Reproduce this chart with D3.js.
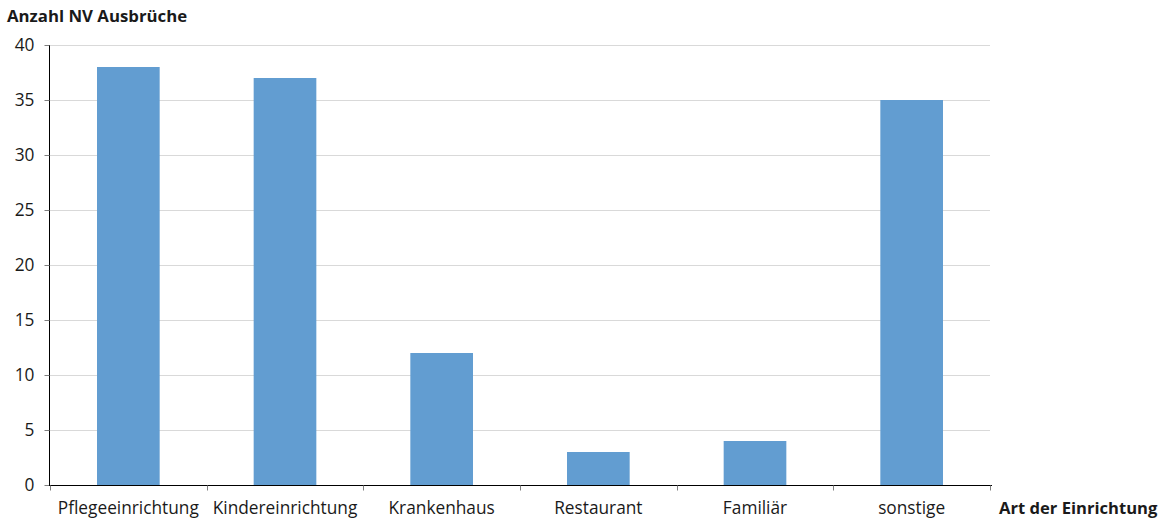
<!DOCTYPE html>
<html>
<head>
<meta charset="utf-8">
<script src="https://cdn.jsdelivr.net/npm/d3@7"></script>
<style>
  html, body { margin: 0; padding: 0; background: #fff; }
  svg { display: block; font-family: "Open Sans", "Noto Sans", sans-serif; }
</style>
</head>
<body>
<svg id="chart" width="1163" height="519"></svg>
<script>
// Norovirus outbreaks by type of facility
const categories = ["Pflegeeinrichtung", "Kindereinrichtung", "Krankenhaus", "Restaurant", "Familiär", "sonstige"];
const outbreaks = [38, 37, 12, 3, 4, 35];
const yTicks = [0, 5, 10, 15, 20, 25, 30, 35, 40];

const svg = d3.select("#chart");
const margin = { left: 50, right: 173, top: 45, bottom: 34 };
const width = 1163, height = 519;

const x = d3.scaleBand()
  .domain(categories)
  .range([margin.left, width - margin.right])
  .paddingInner(0.6)
  .paddingOuter(0.3);

const xBand = d3.scaleBand()
  .domain(categories)
  .range([margin.left, width - margin.right]);

const y = d3.scaleLinear()
  .domain([0, 40])
  .range([height - margin.bottom, margin.top]);

// horizontal gridlines
svg.append("g")
  .selectAll("line")
  .data(yTicks.filter(d => d > 0))
  .join("line")
  .attr("x1", margin.left)
  .attr("x2", width - margin.right)
  .attr("y1", d => Math.round(y(d)) + 0.5)
  .attr("y2", d => Math.round(y(d)) + 0.5)
  .attr("stroke", "#d9d9d9")
  .attr("stroke-width", 1);

// bars
svg.append("g")
  .selectAll("rect")
  .data(categories.map((c, i) => ({ c, v: outbreaks[i] })))
  .join("rect")
  .attr("x", d => x(d.c))
  .attr("width", x.bandwidth())
  .attr("y", d => y(d.v))
  .attr("height", d => y(0) - y(d.v))
  .attr("fill", "#629dd1");

// y axis
const yAxis = d3.axisLeft(y)
  .tickValues(yTicks)
  .tickSize(5)
  .tickPadding(10);
const gy = svg.append("g")
  .attr("transform", `translate(${margin.left - 0.5},0)`)
  .call(yAxis);
gy.select(".domain").attr("stroke", "#000").attr("d", `M0,${margin.top}V${y(0)}`);
gy.selectAll(".tick line").attr("stroke", "#7f7f7f");
gy.selectAll(".tick text")
  .attr("font-size", 17.3)
  .attr("fill", "#1a1a1a")
  .attr("font-family", "'Open Sans', sans-serif");

// x axis: ticks at band boundaries
const gx = svg.append("g")
  .attr("transform", `translate(0,${y(0) + 0.5})`);
gx.append("line")
  .attr("x1", margin.left - 1)
  .attr("x2", width - margin.right + 2)
  .attr("stroke", "#000");
const bounds = categories.map(c => xBand(c)).concat([xBand(categories[categories.length - 1]) + xBand.bandwidth()]);
gx.selectAll("line.tick")
  .data(bounds)
  .join("line")
  .attr("class", "tick")
  .attr("x1", d => Math.round(d) + 0.5)
  .attr("x2", d => Math.round(d) + 0.5)
  .attr("y1", 0)
  .attr("y2", 5)
  .attr("stroke", "#7f7f7f");
gx.selectAll("text")
  .data(categories)
  .join("text")
  .attr("x", d => xBand(d) + xBand.bandwidth() / 2)
  .attr("y", 28)
  .attr("text-anchor", "middle")
  .attr("font-size", 17.3)
  .attr("fill", "#1a1a1a")
  .text(d => d);

// axis titles
svg.append("text")
  .attr("x", 7)
  .attr("y", 22)
  .attr("font-size", 16.8)
  .attr("font-weight", "bold")
  .attr("fill", "#1a1a1a")
  .text("Anzahl NV Ausbrüche");

svg.append("text")
  .attr("x", 999)
  .attr("y", y(0) + 29)
  .attr("font-size", 16.6)
  .attr("font-weight", "bold")
  .attr("fill", "#1a1a1a")
  .text("Art der Einrichtung");
</script>
</body>
</html>
